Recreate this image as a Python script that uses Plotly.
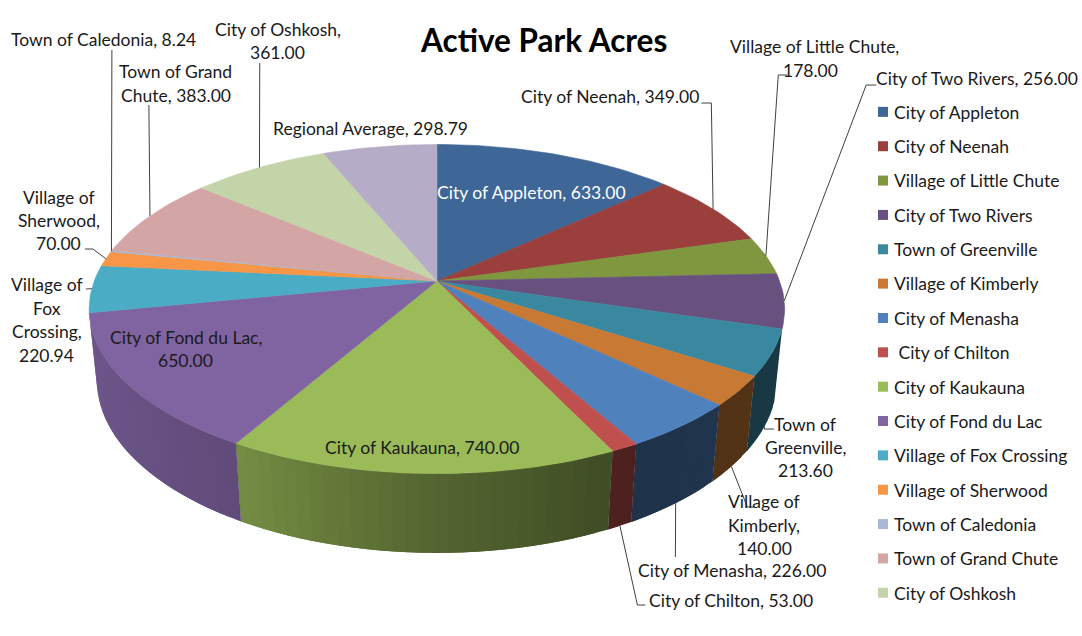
import math
import plotly.graph_objects as go

categories = ["City of Appleton", "City of Neenah", "Village of Little Chute", "City of Two Rivers",
              "Town of Greenville", "Village of Kimberly", "City of Menasha", "City of Chilton",
              "City of Kaukauna", "City of Fond du Lac", "Village of Fox Crossing", "Village of Sherwood",
              "Town of Caledonia", "Town of Grand Chute", "City of Oshkosh", "Regional Average"]
values = [633.00, 349.00, 178.00, 256.00, 213.60, 140.00, 226.00, 53.00,
          740.00, 650.00, 220.94, 70.00, 8.24, 383.00, 361.00, 298.79]
colors = ["#3e6797", "#9a3f3c", "#7f973f", "#68507f", "#3a88a0", "#c87a35", "#4f81bd", "#c0504d",
          "#9bbb59", "#8064a2", "#4bacc6", "#f79646", "#a9b8d7", "#d4a5a5", "#c4d4a9", "#b5acc7"]
legend_names = list(categories[:15])
legend_names[7] = " City of Chilton"

FONT = "Lato"
FS = 17.5
TEXT = "#1a1a1a"
CX, CY = 437.3, 281.0
A, B, K = 343.0, 159.8, 0.1704
E, C = 71.8, 0.022


def top(deg):
    t = math.radians(deg)
    X, Y = math.sin(t), -math.cos(t)
    w = 1 - K * Y
    return CX + A * X / w, CY + B * Y / w


def bottom(deg):
    t = math.radians(deg)
    X, Y = math.sin(t), -math.cos(t)
    w = 1 - K * Y + C
    return CX + A * X / w, CY + (B * Y + E) / w


def shade(deg):
    X = math.sin(math.radians(deg))
    pts = [(-1, .86), (-.5, .75), (0, .54), (.5, .39), (1, .43)]
    for (a, fa), (b, fb) in zip(pts, pts[1:]):
        if X <= b:
            return fa + (fb - fa) * (X - a) / (b - a)
    return .43


def scaled(hexc, f):
    r, g, b = (int(hexc[i:i + 2], 16) for i in (1, 3, 5))
    return f"rgb({r * f:.0f},{g * f:.0f},{b * f:.0f})"


total = sum(values)
edges = [0.0]
for v in values:
    edges.append(edges[-1] + v / total * 360)
mids = [(edges[i] + edges[i + 1]) / 2 for i in range(len(values))]

fig = go.Figure()


def poly(xs, ys, color, lw=0.6):
    fig.add_trace(go.Scatter(x=xs, y=ys, mode="lines", fill="toself", fillcolor=color,
                             line=dict(color=color, width=lw), hoverinfo="skip", showlegend=False))


# side wall: short overlapping strips; only the front slices show a wall
STEP = 2.0
for i in range(4, 10):
    a0, a1 = edges[i], edges[i + 1]
    a = a0
    while a < a1 - 1e-9:
        b = min(a + STEP, a1)
        b2 = min(a + 2 * STEP, a1)
        p = [top(a), top(b2), bottom(b2), bottom(a)]
        poly([q[0] for q in p], [q[1] for q in p], scaled(colors[i], shade((a + b) / 2)), 0)
        a = b

# top face
for i in range(len(values)):
    a0, a1 = edges[i], edges[i + 1]
    n = max(2, int((a1 - a0) / 1.5) + 1)
    pts = [top(a0 + (a1 - a0) * j / n) for j in range(n + 1)]
    xs = [CX] + [q[0] for q in pts] + [CX]
    ys = [CY] + [q[1] for q in pts] + [CY]
    poly(xs, ys, colors[i])


# leader lines: elbow points, ending on the slice's own mid-angle
def leader(idx, elbows, ring=top):
    ex, ey = ring(mids[idx])
    fig.add_trace(go.Scatter(x=[q[0] for q in elbows] + [ex], y=[q[1] for q in elbows] + [ey],
                             mode="lines", line=dict(color="#404040", width=1),
                             hoverinfo="skip", showlegend=False))


leader(1, [(702, 103), (712, 103)])
leader(2, [(788, 75), (779, 75)])
leader(3, [(877, 85), (867, 85)])
leader(4, [(775, 429), (765, 429)], bottom)
leader(5, [(755, 507), (748, 507)], bottom)
leader(6, [(676, 557)], bottom)
leader(7, [(646, 605), (638, 605)], bottom)
leader(10, [(86, 289)])
leader(11, [(85, 249), (93, 249)])
leader(12, [(112, 50)])
leader(13, [(149, 105)])
leader(14, [(260, 63)])

# legend
for i, name in enumerate(legend_names):
    fig.add_trace(go.Scatter(x=[None], y=[None], mode="markers", name=name, legendgroup=name,
                             marker=dict(symbol="square", size=10, color=colors[i]), hoverinfo="skip"))

labels = [
    ("Active Park Acres", 544, 40, "title"),
    ("Town of Caledonia, 8.24", 104, 39, ""),
    ("City of Oshkosh,", 278, 29, ""), ("361.00", 278, 52, ""),
    ("Town of Grand", 176, 71, ""), ("Chute, 383.00", 176, 95, ""),
    ("Regional Average, 298.79", 371, 128, ""),
    ("Village of", 59, 197, ""), ("Sherwood,", 59, 220, ""), ("70.00", 59, 243, ""),
    ("Village of", 47, 284, ""), ("Fox", 47, 308, ""), ("Crossing,", 47, 331, ""), ("220.94", 47, 355, ""),
    ("City of Fond du Lac,", 186, 337, ""), ("650.00", 186, 360, ""),
    ("City of Appleton, 633.00", 532, 192, "white"),
    ("City of Kaukauna, 740.00", 422, 447, ""),
    ("City of Neenah, 349.00", 611, 96, ""),
    ("Village of Little Chute,", 815, 46, ""), ("178.00", 811, 70, ""),
    ("City of Two Rivers, 256.00", 978, 78, ""),
    ("Town of", 806, 424, ""), ("Greenville,", 806, 447, ""), ("213.60", 806, 470, ""),
    ("Village of", 765, 501, ""), ("Kimberly,", 765, 525, ""), ("140.00", 765, 548, ""),
    ("City of Menasha, 226.00", 733, 570, ""),
    ("City of Chilton, 53.00", 732, 600, ""),
]
ann = []
for text, x, y, kind in labels:
    if kind == "title":
        f = dict(family=FONT, size=31.5, color="#000000")
        text = f"<b>{text}</b>"
    else:
        f = dict(family=FONT, size=FS, color="#ffffff" if kind == "white" else TEXT)
    ann.append(dict(x=x, y=y, xref="x", yref="y", text=text, showarrow=False, xanchor="center",
                    yanchor="middle", font=f, borderpad=0))

fig.update_layout(
    width=1082, height=636, margin=dict(l=0, r=0, t=0, b=0),
    paper_bgcolor="white", plot_bgcolor="white",
    xaxis=dict(range=[0, 1082], visible=False, fixedrange=True),
    yaxis=dict(range=[636, 0], visible=False, fixedrange=True),
    annotations=ann,
    legend=dict(x=864 / 1082, y=1 - 94 / 636, xanchor="left", yanchor="top", tracegroupgap=8.6,
                font=dict(family=FONT, size=FS, color=TEXT), itemsizing="trace", itemwidth=30,
                bgcolor="rgba(0,0,0,0)", traceorder="grouped"),
    showlegend=True,
)
post = """document.body.style.margin='0';
var pullLegendText=function(){document.querySelectorAll('.legendtext').forEach(function(t){t.setAttribute('x','31');});};
pullLegendText();setTimeout(pullLegendText,50);setTimeout(pullLegendText,300);"""
fig.write_html("out.html", post_script=post, config={"displayModeBar": False})
